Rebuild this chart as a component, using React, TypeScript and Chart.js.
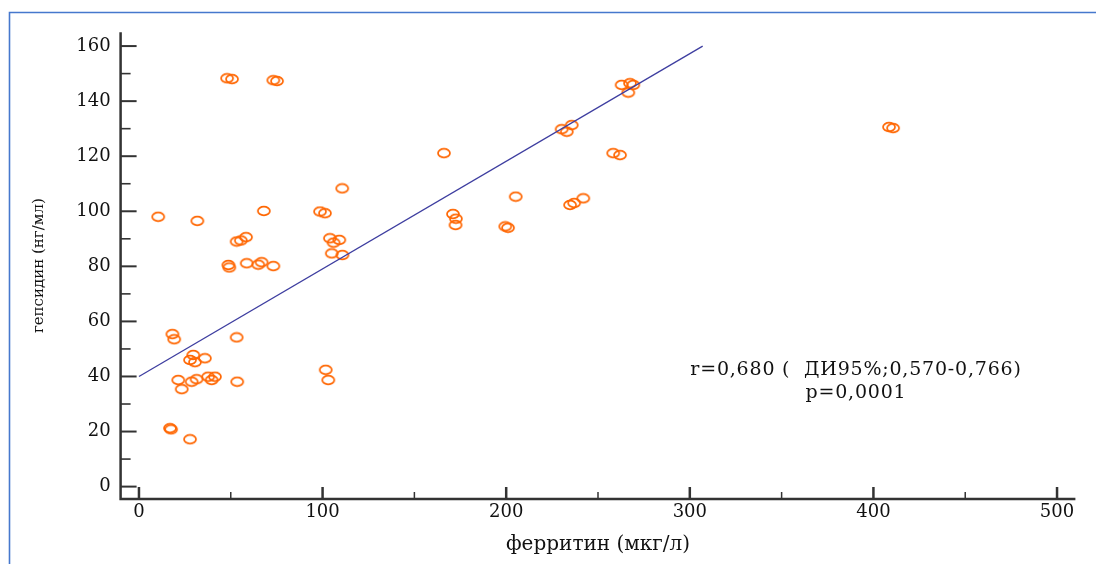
import React, { useEffect, useRef } from "react";
import { Chart, registerables } from "chart.js";

Chart.register(...registerables);

// ферритин (мкг/л)
const ferritin = [
  10.5, 31.8, 68.0, 98.6, 101.3, 110.7, 53.2, 55.5, 58.3, 48.7,
  49.2, 58.7, 65.0, 66.8, 73.2, 104.0, 106.0, 109.1, 105.0, 110.8,
  18.2, 19.2, 53.2, 29.6, 27.8, 35.9, 30.5, 21.4, 23.3, 28.7,
  31.4, 37.7, 41.4, 39.6, 53.5, 16.9, 17.5, 27.8, 101.7, 103.1,
  166.1, 171.0, 172.6, 172.4, 199.5, 201.0, 205.2, 230.2, 233.0, 235.7,
  234.8, 237.0, 242.0, 258.3, 262.0, 262.9, 267.4, 269.2, 266.5, 408.5,
  410.7, 48.0, 50.7, 73.2, 75.2,
];
// гепсидин (нг/мл)
const hepcidin = [
  98.0, 96.5, 100.1, 99.9, 99.3, 108.3, 89.0, 89.4, 90.6, 80.5,
  79.6, 81.1, 80.6, 81.5, 80.1, 90.2, 88.6, 89.6, 84.7, 84.1,
  55.4, 53.5, 54.2, 47.8, 46.0, 46.6, 45.2, 38.7, 35.4, 38.1,
  39.0, 39.9, 39.9, 38.7, 38.1, 21.2, 20.8, 17.2, 42.4, 38.7,
  121.1, 99.0, 97.3, 95.0, 94.5, 94.0, 105.3, 129.8, 128.9, 131.3,
  102.3, 103.0, 104.7, 121.1, 120.4, 145.9, 146.5, 145.9, 143.1, 130.6,
  130.2, 148.3, 148.0, 147.6, 147.3,
];

const regressionX = [0, 307];
const regressionY = [40, 160];

const xMajorTicks = [0, 100, 200, 300, 400, 500];
const xMinorTicks = [50, 150, 250, 350, 450];
const yMajorTicks = [0, 20, 40, 60, 80, 100, 120, 140, 160];
const yMinorTicks = [10, 30, 50, 70, 90, 110, 130, 150];

const xTitle = "ферритин (мкг/л)";
const yTitle = "гепсидин (нг/мл)";
const annotationLines = ["r=0,680 (  ДИ95%;0,570-0,766)", "p=0,0001"];
const annotationAt = { x: 390.5, y1: 42.4, y2: 34.0 };

const SERIF = "'DejaVu Serif', 'Liberation Serif', serif";
const AXIS_COLOR = "#333333";
const TEXT_COLOR = "#111111";
const MARKER_COLOR = "rgb(255,102,0)";
const LINE_COLOR = "rgb(62,62,160)";
const FRAME_COLOR = "rgb(70,120,205)";

function makeMarker(): HTMLCanvasElement {
  const c = document.createElement("canvas");
  c.width = 16;
  c.height = 12;
  const g = c.getContext("2d")!;
  g.strokeStyle = MARKER_COLOR;
  g.lineWidth = 1.7;
  g.beginPath();
  g.ellipse(8, 6, 6, 4.3, 0, 0, Math.PI * 2);
  g.stroke();
  return c;
}

const customPlugin = {
  id: "customAxes",
  beforeDraw(chart: any) {
    const ctx = chart.ctx;
    ctx.save();
    ctx.strokeStyle = FRAME_COLOR;
    ctx.lineWidth = 1.6;
    ctx.beginPath();
    ctx.moveTo(9.5, 570);
    ctx.lineTo(9.5, 12.5);
    ctx.lineTo(1100, 12.5);
    ctx.stroke();
    ctx.restore();
  },
  afterDraw(chart: any) {
    const ctx = chart.ctx;
    const { left, right, top, bottom } = chart.chartArea;
    const xs = chart.scales.x;
    const ys = chart.scales.y;
    ctx.save();
    ctx.strokeStyle = AXIS_COLOR;
    ctx.lineCap = "butt";
    ctx.lineWidth = 2.5;
    ctx.beginPath();
    ctx.moveTo(left, top);
    ctx.lineTo(left, bottom);
    ctx.lineTo(right, bottom);
    ctx.stroke();
    ctx.lineWidth = 2;
    yMajorTicks.forEach((v) => {
      const p = ys.getPixelForValue(v);
      ctx.beginPath();
      ctx.moveTo(left, p);
      ctx.lineTo(left + 16, p);
      ctx.stroke();
    });
    ctx.lineWidth = 1.6;
    yMinorTicks.forEach((v) => {
      const p = ys.getPixelForValue(v);
      ctx.beginPath();
      ctx.moveTo(left, p);
      ctx.lineTo(left + 10, p);
      ctx.stroke();
    });
    ctx.lineWidth = 2.5;
    xMajorTicks.forEach((v) => {
      const p = xs.getPixelForValue(v);
      ctx.beginPath();
      ctx.moveTo(p, bottom);
      ctx.lineTo(p, bottom - 12);
      ctx.stroke();
    });
    ctx.lineWidth = 1.5;
    xMinorTicks.forEach((v) => {
      const p = xs.getPixelForValue(v);
      ctx.beginPath();
      ctx.moveTo(p, bottom);
      ctx.lineTo(p, bottom - 7);
      ctx.stroke();
    });
    ctx.fillStyle = TEXT_COLOR;
    ctx.font = `19px ${SERIF}`;
    try {
      (ctx as any).letterSpacing = "0.8px";
    } catch (e) {}
    ctx.textAlign = "center";
    ctx.textBaseline = "middle";
    const ax = xs.getPixelForValue(annotationAt.x);
    ctx.fillText(annotationLines[0], ax, ys.getPixelForValue(annotationAt.y1));
    ctx.fillText(annotationLines[1], ax, ys.getPixelForValue(annotationAt.y2));
    ctx.restore();
  },
};

export default function App() {
  const ref = useRef<HTMLCanvasElement | null>(null);
  useEffect(() => {
    if (!ref.current) return;
    const marker = makeMarker();
    const points = ferritin.map((x, i) => ({ x, y: hepcidin[i] }));
    const line = regressionX.map((x, i) => ({ x, y: regressionY[i] }));
    const chart = new Chart(ref.current, {
      type: "scatter",
      data: {
        datasets: [
          {
            data: line,
            showLine: true,
            borderColor: LINE_COLOR,
            borderWidth: 1.3,
            pointRadius: 0,
            fill: false,
          } as any,
          {
            data: points,
            pointStyle: marker as any,
            pointRadius: 6,
            borderColor: MARKER_COLOR,
            backgroundColor: "transparent",
          },
        ],
      },
      plugins: [customPlugin],
      options: {
        animation: false,
        responsive: false,
        devicePixelRatio: 1,
        layout: { padding: { top: 32.3, right: 20.6, left: 0, bottom: 0 } },
        plugins: {
          legend: { display: false },
          tooltip: { enabled: false },
        },
        scales: {
          x: {
            type: "linear",
            min: -10,
            max: 510,
            grid: { display: false, drawTicks: false, tickLength: 0 },
            border: { display: false },
            afterBuildTicks: (s: any) => {
              s.ticks = xMajorTicks.map((v) => ({ value: v }));
            },
            afterFit: (s: any) => {
              s.height = 65;
            },
            ticks: {
              font: { family: SERIF, size: 18 },
              color: TEXT_COLOR,
              padding: 3,
              maxRotation: 0,
              autoSkip: false,
            },
            title: {
              display: true,
              text: xTitle,
              font: { family: SERIF, size: 20 },
              color: TEXT_COLOR,
              padding: { top: 0, bottom: 7 },
            },
          },
          y: {
            type: "linear",
            min: -4.5,
            max: 165,
            grid: { display: false, drawTicks: false, tickLength: 0 },
            border: { display: false },
            afterBuildTicks: (s: any) => {
              s.ticks = yMajorTicks.map((v) => ({ value: v }));
            },
            afterFit: (s: any) => {
              s.width = 120.6;
            },
            ticks: {
              font: { family: SERIF, size: 18 },
              color: TEXT_COLOR,
              padding: 10,
              autoSkip: false,
            },
            title: {
              display: true,
              text: yTitle,
              font: { family: SERIF, size: 15 },
              color: TEXT_COLOR,
              padding: { top: 30, bottom: 0 },
            },
          },
        },
      } as any,
    });
    return () => chart.destroy();
  }, []);
  return (
    <div style={{ position: "fixed", left: 0, top: 0, width: 1096, height: 564, background: "#fff" }}>
      <canvas ref={ref} width={1096} height={564} style={{ display: "block", width: 1096, height: 564 }} />
    </div>
  );
}
